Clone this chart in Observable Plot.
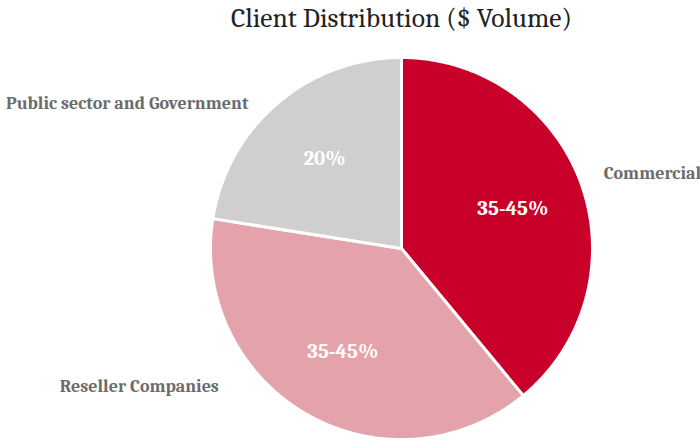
<!DOCTYPE html>
<html>
<head>
<meta charset="utf-8">
<script src="https://cdn.jsdelivr.net/npm/d3@7"></script>
<script src="https://cdn.jsdelivr.net/npm/@observablehq/plot@0.6"></script>
<style>
  html, body { margin: 0; padding: 0; background: #fff; }
</style>
</head>
<body>
<div id="chart"></div>
<script>
// ---- data ----
const title = "Client Distribution ($ Volume)";
const categories = ["Commercial", "Reseller Companies", "Public sector and Government"];
const shares = [39, 38.5, 22.5];
const sliceLabels = ["35-45%", "35-45%", "20%"];

// ---- styling (kept separate from the data) ----
const colors = ["#C8002A", "#E4A2AB", "#D0CECE"];
const serif = "Cambria, 'Liberation Serif', 'DejaVu Serif', serif";
const outerOffsets = {
  "Commercial": {anchor: "start", dx: -8, dy: 0, r: 1.17},
  "Reseller Companies": {anchor: "end", dx: -88, dy: -28, r: 1.0},
  "Public sector and Government": {anchor: "end", dx: -29, dy: 0, r: 1.0}
};

// ---- derived geometry (from values via d3.pie) ----
const arcs = d3.pie().sort(null).value(d => d.v)(
  categories.map((c, i) => ({c, v: shares[i], label: sliceLabels[i]}))
);
const pts = [];
for (const a of arcs) {
  pts.push({c: a.data.c, x: 0, y: 0});
  const n = Math.max(2, Math.ceil((a.endAngle - a.startAngle) / 0.01));
  for (let k = 0; k <= n; k++) {
    const t = a.startAngle + (a.endAngle - a.startAngle) * k / n;
    pts.push({c: a.data.c, x: Math.sin(t), y: Math.cos(t)});
  }
}
const mids = arcs.map(a => {
  const m = (a.startAngle + a.endAngle) / 2;
  return {c: a.data.c, label: a.data.label, sx: Math.sin(m), sy: Math.cos(m)};
});

const marks = [
  Plot.line(pts, {
    x: "x", y: "y", z: "c",
    fill: "c", stroke: "white", strokeWidth: 3,
    curve: "linear-closed", strokeLinejoin: "miter"
  }),
  Plot.text(mids, {
    x: d => d.sx * 0.62, y: d => d.sy * 0.62, text: "label",
    fill: "white", fontWeight: "bold", fontSize: 21, fontFamily: serif
  }),
  Plot.text([title], {
    frameAnchor: "top", dy: -39, text: d => d,
    fill: "#222", fontSize: 27.5, fontFamily: serif, lineAnchor: "middle"
  })
];
for (const m of mids) {
  const o = outerOffsets[m.c];
  marks.push(Plot.text([m], {
    x: d => d.sx * o.r, y: d => d.sy * o.r, text: "c",
    textAnchor: o.anchor, dx: o.dx, dy: o.dy,
    fill: "#6b6b6b", fontWeight: "bold", fontSize: 18, fontFamily: serif
  }));
}

const chart = Plot.plot({
  width: 700,
  height: 443,
  marginLeft: 210,
  marginRight: 108,
  marginTop: 57,
  marginBottom: 4,
  x: {domain: [-1, 1], axis: null},
  y: {domain: [-1, 1], axis: null},
  color: {domain: categories, range: colors},
  style: {background: "white", overflow: "visible"},
  marks
});
document.getElementById("chart").appendChild(chart);
</script>
</body>
</html>
